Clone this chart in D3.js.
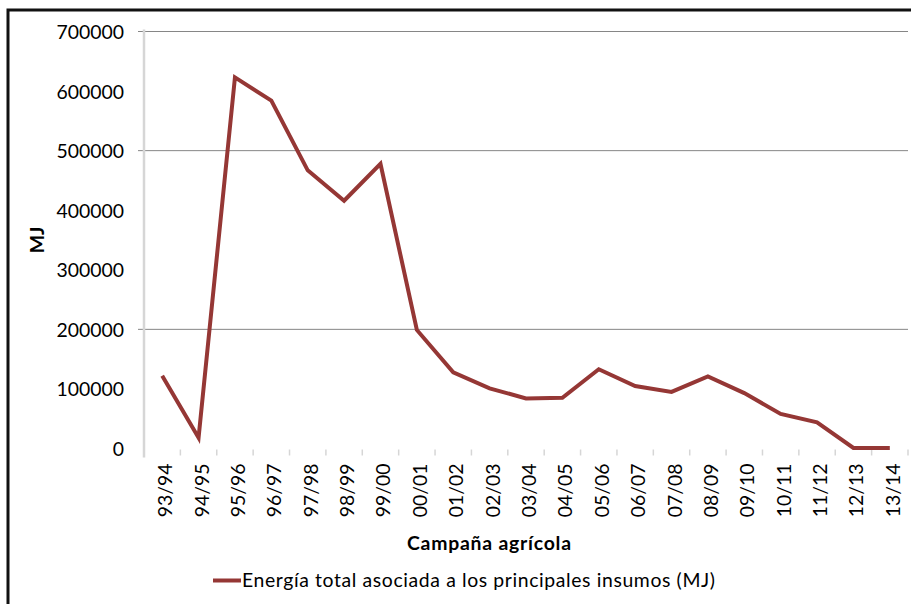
<!DOCTYPE html>
<html>
<head>
<meta charset="utf-8">
<script src="https://cdn.jsdelivr.net/npm/d3@7"></script>
<style>
  html, body { margin: 0; padding: 0; background: #fff; }
  svg { display: block; }
  text { font-family: Lato, "Open Sans", sans-serif; fill: #000; }
</style>
</head>
<body>
<svg id="chart" width="911" height="604"></svg>
<script>
// Campaigns (agricultural seasons)
const campaigns = ["93/94","94/95","95/96","96/97","97/98","98/99","99/00","00/01","01/02","02/03",
                   "03/04","04/05","05/06","06/07","07/08","08/09","09/10","10/11","11/12","12/13","13/14"];
// Total energy associated with the main inputs (MJ)
const energyMJ = [122000, 18000, 623000, 584000, 467000, 416000, 478000, 199000, 128000, 101000,
                  84000, 85000, 133000, 105000, 95000, 121000, 93000, 58000, 44000, 1000, 1000];
const yTicks = [0, 100000, 200000, 300000, 400000, 500000, 600000, 700000];
const gridValues = [200000, 500000, 700000];
const seriesName = "Energía total asociada a los principales insumos (MJ)";
const xTitle = "Campaña agrícola";
const yTitle = "MJ";

const lineColor = "#953735";
const fontSize = 19.4;
const svg = d3.select("#chart");

// outer frame
svg.append("rect")
  .attr("x", 8).attr("y", 10)
  .attr("width", 1000).attr("height", 1000)
  .attr("fill", "none").attr("stroke", "#111").attr("stroke-width", 3);

const plot = { left: 144, right: 908, top: 31.5, bottom: 448.5 };

const x = d3.scaleBand().domain(campaigns).range([plot.left, plot.right]).padding(0);
const y = d3.scaleLinear().domain([0, 700000]).range([plot.bottom, plot.top]);

// horizontal gridlines
svg.append("g").selectAll("line").data(gridValues).join("line")
  .attr("x1", plot.left - 6).attr("x2", plot.right)
  .attr("y1", d => y(d)).attr("y2", d => y(d))
  .attr("stroke", "#868686").attr("stroke-width", 1);

// y axis
const yAxis = svg.append("g")
  .attr("transform", `translate(${plot.left},0)`)
  .call(d3.axisLeft(y).tickValues(yTicks).tickSize(0).tickPadding(20).tickFormat(d3.format("d")));
yAxis.select(".domain").remove();
yAxis.selectAll("text").attr("font-size", fontSize).attr("dy", "0.36em");
svg.append("line")
  .attr("x1", plot.left).attr("x2", plot.left)
  .attr("y1", plot.top - 2).attr("y2", plot.bottom + 9)
  .attr("stroke", "#d6d6d6").attr("stroke-width", 2.5);

// x axis: tick marks on category boundaries
const boundaries = campaigns.map(c => x(c) + x.bandwidth());
svg.append("g").selectAll("line").data(boundaries).join("line")
  .attr("x1", d => d).attr("x2", d => d)
  .attr("y1", plot.bottom + 1).attr("y2", plot.bottom + 7)
  .attr("stroke", "#d6d6d6").attr("stroke-width", 1.5);

const xAxis = svg.append("g")
  .attr("transform", `translate(0,${plot.bottom})`)
  .call(d3.axisBottom(x).tickSize(0).tickPadding(0));
xAxis.select(".domain").remove();
xAxis.selectAll("text")
  .attr("font-size", fontSize)
  .attr("text-anchor", "end")
  .attr("transform", "rotate(-90)")
  .attr("x", -15)
  .attr("y", 3)
  .attr("dy", "0.36em");

// series line
const line = d3.line()
  .x((d, i) => x(campaigns[i]) + x.bandwidth() / 2)
  .y(d => y(d));
svg.append("path")
  .datum(energyMJ)
  .attr("d", line)
  .attr("fill", "none")
  .attr("stroke", lineColor)
  .attr("stroke-width", 4)
  .attr("stroke-linejoin", "miter")
  .attr("stroke-linecap", "butt");

// axis titles
svg.append("text")
  .attr("x", 489).attr("y", 550)
  .attr("text-anchor", "middle")
  .attr("font-size", fontSize).attr("font-weight", "bold")
  .attr("textLength", 164).attr("lengthAdjust", "spacing")
  .text(xTitle);
svg.append("text")
  .attr("transform", "translate(44,240) rotate(-90)")
  .attr("text-anchor", "middle")
  .attr("font-size", fontSize).attr("font-weight", "bold")
  .text(yTitle);

// legend
svg.append("line")
  .attr("x1", 213).attr("x2", 241).attr("y1", 580.5).attr("y2", 580.5)
  .attr("stroke", lineColor).attr("stroke-width", 4);
svg.append("text")
  .attr("x", 242).attr("y", 586.5)
  .attr("font-size", fontSize)
  .attr("textLength", 473).attr("lengthAdjust", "spacing")
  .text(seriesName);
</script>
</body>
</html>
